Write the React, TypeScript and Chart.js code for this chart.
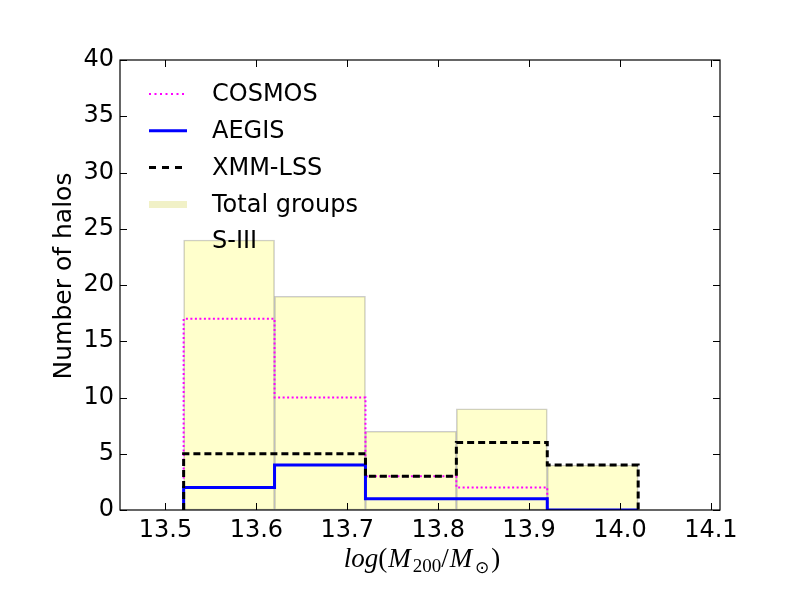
import React, { useEffect, useRef } from "react";
import { Chart, registerables } from "chart.js";

Chart.register(...registerables);

// ---- data ----
const binEdges = [13.52, 13.62, 13.72, 13.82, 13.92, 14.02];
const totalGroups = [24, 19, 7, 9, 4];
const cosmos = [17, 10, 3, 2, 0];
const aegis = [2, 4, 1, 1, 0];
const xmmLss = [5, 5, 3, 6, 4];
const xTickValues = [13.5, 13.6, 13.7, 13.8, 13.9, 14.0, 14.1];
const yTickValues = [0, 5, 10, 15, 20, 25, 30, 35, 40];
const legendLabels = ["COSMOS", "AEGIS", "XMM-LSS", "Total groups", "S-III"];
const yTitle = "Number of halos";

const FONT = '"DejaVu Sans", sans-serif';

function stepPoints(vals: number[]) {
  const pts: { x: number; y: number }[] = [{ x: binEdges[0], y: 0 }];
  vals.forEach((v, i) => pts.push({ x: binEdges[i], y: v }));
  pts.push({ x: binEdges[vals.length], y: 0 });
  return pts;
}

const legendStyles = [
  { color: "#ff00ff", width: 2, dash: [2, 3.5] },
  { color: "#0000ff", width: 3, dash: [] as number[] },
  { color: "#000000", width: 3, dash: [7, 6] },
  { color: "rgba(191,191,0,0.22)", width: 7, dash: [] as number[] },
  null,
];

const decorPlugin = {
  id: "decor",
  afterDraw(chart: any) {
    const { ctx, chartArea: a, scales } = chart;
    ctx.save();
    // frame
    ctx.strokeStyle = "#000";
    ctx.lineWidth = 1.2;
    ctx.setLineDash([]);
    ctx.strokeRect(a.left, a.top, a.right - a.left, a.bottom - a.top);
    // inward ticks
    const tl = 7;
    ctx.lineWidth = 1;
    ctx.beginPath();
    xTickValues.forEach((v) => {
      const px = Math.round(scales.x.getPixelForValue(v)) + 0.5;
      ctx.moveTo(px, a.bottom);
      ctx.lineTo(px, a.bottom - tl);
      ctx.moveTo(px, a.top);
      ctx.lineTo(px, a.top + tl);
    });
    yTickValues.forEach((v) => {
      const py = Math.round(scales.y.getPixelForValue(v)) + 0.5;
      ctx.moveTo(a.left, py);
      ctx.lineTo(a.left + tl, py);
      ctx.moveTo(a.right, py);
      ctx.lineTo(a.right - tl, py);
    });
    ctx.stroke();

    // legend
    const lx0 = a.left + 29;
    const lx1 = a.left + 67;
    const tx = a.left + 92;
    const rowY0 = a.top + 34;
    const rowStep = 36.8;
    ctx.font = `24px ${FONT}`;
    ctx.textBaseline = "middle";
    ctx.textAlign = "left";
    ctx.fillStyle = "#000";
    legendLabels.forEach((lab, i) => {
      const y = rowY0 + i * rowStep;
      const st = legendStyles[i];
      if (st) {
        ctx.save();
        ctx.strokeStyle = st.color;
        ctx.lineWidth = st.width;
        ctx.setLineDash(st.dash);
        ctx.lineCap = "butt";
        ctx.beginPath();
        ctx.moveTo(lx0, y);
        ctx.lineTo(lx1, y);
        ctx.stroke();
        ctx.restore();
      }
      ctx.fillText(lab, tx, y + 1);
    });

    // y title
    ctx.save();
    ctx.translate(64, 276);
    ctx.rotate(-Math.PI / 2);
    ctx.font = `25px ${FONT}`;
    ctx.textAlign = "center";
    ctx.textBaseline = "middle";
    ctx.fillText(yTitle, 0, 0);
    ctx.restore();

    // x title: log(M_200/M_sun)
    const serif = '"Liberation Serif", "DejaVu Serif", serif';
    const runs = [
      { t: "log", f: `italic 27px ${serif}`, dy: 0 },
      { t: "(", f: `27px ${serif}`, dy: 0 },
      { t: "M", f: `italic 27px ${serif}`, dy: 0 },
      { t: "200", f: `19px ${serif}`, dy: 5 },
      { t: "/", f: `27px ${serif}`, dy: 0 },
      { t: "M", f: `italic 27px ${serif}`, dy: 0 },
      { t: "\u2299", f: `17px "DejaVu Sans", sans-serif`, dy: 6 },
      { t: ")", f: `27px ${serif}`, dy: 0 },
    ];
    const gaps = [0, 1, 2, 0, 1, 3, 2, 0];
    let total = 0;
    runs.forEach((r, i) => {
      ctx.font = r.f;
      total += ctx.measureText(r.t).width + gaps[i];
    });
    let x = (a.left + a.right) / 2 + 2 - total / 2;
    const base = 567;
    ctx.textBaseline = "alphabetic";
    ctx.textAlign = "left";
    runs.forEach((r, i) => {
      ctx.font = r.f;
      ctx.fillText(r.t, x, base + r.dy);
      x += ctx.measureText(r.t).width + gaps[i];
    });
    ctx.restore();
  },
};

export default function App() {
  const ref = useRef<HTMLCanvasElement | null>(null);
  useEffect(() => {
    if (!ref.current) return;
    Chart.defaults.font.family = FONT;
    const chart = new Chart(ref.current, {
      type: "bar",
      data: {
        datasets: [
          {
            type: "line",
            label: legendLabels[2],
            data: stepPoints(xmmLss),
            stepped: "before",
            borderColor: "#000000",
            borderWidth: 3,
            borderDash: [7, 4],
            pointRadius: 0,
            fill: false,
            order: 1,
          } as any,
          {
            type: "line",
            label: legendLabels[1],
            data: stepPoints(aegis),
            stepped: "before",
            borderColor: "#0000ff",
            borderWidth: 3,
            pointRadius: 0,
            fill: false,
            order: 2,
          } as any,
          {
            type: "line",
            label: legendLabels[0],
            data: stepPoints(cosmos),
            stepped: "before",
            borderColor: "#ff00ff",
            borderWidth: 2,
            borderDash: [2, 2.5],
            pointRadius: 0,
            fill: false,
            order: 3,
          } as any,
          {
            type: "bar",
            label: legendLabels[3],
            data: totalGroups.map((v, i) => ({ x: (binEdges[i] + binEdges[i + 1]) / 2, y: v })),
            backgroundColor: "rgba(255,255,0,0.2)",
            borderColor: "rgba(0,0,0,0.2)",
            borderWidth: 1,
            borderSkipped: false,
            barPercentage: 1,
            categoryPercentage: 1,
            order: 4,
          } as any,
        ],
      },
      options: {
        animation: false,
        responsive: false,
        devicePixelRatio: 1,
        layout: { padding: { top: 60, right: 80, left: 0, bottom: 0 } },
        plugins: { legend: { display: false }, tooltip: { enabled: false } },
        scales: {
          x: {
            type: "linear",
            min: 13.45,
            max: 14.11,
            offset: false,
            grid: { display: false, drawTicks: false },
            border: { display: false },
            afterBuildTicks: (s: any) => {
              s.ticks = xTickValues.map((value) => ({ value }));
            },
            afterFit: (s: any) => {
              s.height = 90;
            },
            ticks: {
              autoSkip: false,
              maxRotation: 0,
              padding: 6,
              color: "#000",
              font: { size: 24, family: FONT },
              callback: (v: any) => Number(v).toFixed(1),
            },
          },
          y: {
            type: "linear",
            min: 0,
            max: 40,
            grid: { display: false, drawTicks: false },
            border: { display: false },
            afterBuildTicks: (s: any) => {
              s.ticks = yTickValues.map((value) => ({ value }));
            },
            afterFit: (s: any) => {
              s.width = 120;
            },
            ticks: {
              padding: 6,
              color: "#000",
              font: { size: 24, family: FONT },
              callback: (v: any) => String(v),
            },
          },
        },
      },
      plugins: [decorPlugin],
    });
    return () => chart.destroy();
  }, []);
  return (
    <div style={{ position: "fixed", left: 0, top: 0, width: 800, height: 600, background: "#fff" }}>
      <canvas ref={ref} width={800} height={600} style={{ width: 800, height: 600 }} />
    </div>
  );
}
